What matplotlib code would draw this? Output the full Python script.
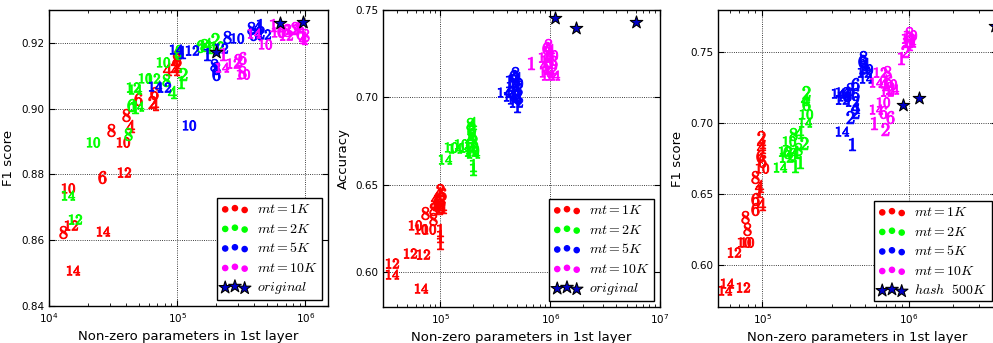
import matplotlib
matplotlib.use("Agg")
import matplotlib.pyplot as plt

plt.rcParams.update({
    "mathtext.fontset": "cm",
    "xtick.direction": "in",
    "ytick.direction": "in",
    "xtick.top": True,
    "ytick.right": True,
    "xtick.major.size": 4,
    "xtick.minor.size": 2,
    "ytick.major.size": 4,
    "grid.color": "k",
    "grid.linestyle": ":",
    "grid.linewidth": 0.6,
    "axes.linewidth": 1.0,
})

RED, GREEN, BLUE, MAG = "#ff0000", "#00ff00", "#0000ff", "#ff00ff"

# ---- panel 1: F1 score ----
p1_red_lab = ["8", "10", "4", "8", "6", "2", "4", "6", "4", "4", "4", "6", "8", "2", "6", "12", "10", "12", "8", "14", "14"]
p1_red_x = [3.05e4, 3.78e4, 4.3e4, 4.0e4, 4.96e4, 6.38e4, 6.6e4, 6.61e4, 8.35e4, 9.64e4, 9.64e4, 1.0e5, 9.8e4, 9.9e4,
            2.59e4, 3.85e4, 1.41e4, 1.49e4, 1.29e4, 2.64e4, 1.54e4]
p1_red_y = [0.8935, 0.8899, 0.8947, 0.8980, 0.9028, 0.9019, 0.9013, 0.9049, 0.9119, 0.9119, 0.9143, 0.9164, 0.9152,
            0.9132, 0.8793, 0.8808, 0.8760, 0.8645, 0.8624, 0.8627, 0.8510]

p1_green_lab = ["10", "8", "6", "14", "1", "12", "14", "10", "12", "8", "4", "10", "2", "1", "6", "8", "6", "8", "4",
                "2", "12", "1", "14", "12"]
p1_green_x = [2.21e4, 4.14e4, 4.37e4, 4.87e4, 4.7e4, 4.53e4, 4.65e4, 5.62e4, 6.49e4, 8.2e4, 9.14e4, 7.77e4, 1.11e5,
              1.07e5, 1.02e5, 1.04e5, 1.5e5, 1.62e5, 1.7e5, 1.98e5, 2.05e5, 1.78e5, 1.41e4, 1.60e4]
p1_green_y = [0.8899, 0.8923, 0.9010, 0.9007, 0.9004, 0.9067, 0.9060, 0.9094, 0.9094, 0.9088, 0.9052, 0.9143, 0.9104,
              0.9082, 0.9170, 0.9176, 0.9191, 0.9194, 0.9196, 0.9212, 0.9191, 0.9186, 0.8736, 0.8663]

p1_blue_lab = ["10", "14", "12", "14", "1", "12", "1", "12", "8", "8", "6", "8", "10", "8", "4", "1", "6", "12", "2"]
p1_blue_x = [1.24e5, 6.73e4, 7.91e4, 9.82e4, 1.09e5, 1.31e5, 1.7e5, 2.2e5, 1.95e5, 2.0e5, 2.0e5, 2.46e5, 2.94e5,
             3.78e5, 4.22e5, 4.4e5, 3.93e5, 4.78e5, 4.45e5]
p1_blue_y = [0.8950, 0.9070, 0.9067, 0.9182, 0.9173, 0.9179, 0.9167, 0.9185, 0.9134, 0.9125, 0.9104, 0.9218, 0.9215,
             0.9245, 0.9248, 0.9254, 0.9227, 0.9227, 0.9233]

p1_mag_lab = ["1", "14", "12", "2", "6", "10", "8", "1", "10", "10", "14", "6", "8", "12", "2", "4", "6", "12", "1",
              "4", "8"]
p1_mag_x = [2.29e5, 2.25e5, 2.74e5, 3.0e5, 3.22e5, 3.28e5, 3.2e5, 5.62e5, 6.15e5, 4.87e5, 4.0e5, 6.5e5, 7.2e5, 7.8e5,
            8.3e5, 8.8e5, 9.0e5, 7.0e5, 9.5e5, 9.64e5, 1.0e6]
p1_mag_y = [0.9167, 0.9128, 0.9140, 0.9149, 0.9155, 0.9104, 0.9110, 0.9254, 0.9233, 0.9197, 0.9230, 0.9236, 0.9240,
            0.9242, 0.9245, 0.9250, 0.9230, 0.9225, 0.9218, 0.9215, 0.9225]

p1_star_x = [2.02e5, 6.38e5, 9.64e5]
p1_star_y = [0.9173, 0.9260, 0.9263]

# ---- panel 2: accuracy ----
p2_red_lab = ["2", "4", "6", "4", "2", "6", "4", "6", "2", "4", "8", "8", "8", "10", "10", "10", "1", "1", "1", "12",
              "12", "12", "14", "14"]
p2_red_x = [1.0e5, 9.6e4, 1.03e5, 9.0e4, 1.02e5, 9.4e4, 8.8e4, 1.0e5, 9.8e4, 1.04e5, 8.5e4, 7.2e4, 8.6e4, 5.9e4,
            6.6e4, 7.9e4, 1.0e5, 1.0e5, 1.0e5, 5.3e4, 7.0e4, 3.66e4, 3.59e4, 6.72e4]
p2_red_y = [0.6470, 0.6450, 0.6445, 0.6425, 0.6420, 0.6400, 0.6390, 0.6380, 0.6365, 0.6375, 0.6358, 0.6336, 0.6301,
            0.6267, 0.6245, 0.6245, 0.6239, 0.6205, 0.6165, 0.6108, 0.6103, 0.6052, 0.5989, 0.5909]

p2_green_lab = ["8", "4", "2", "6", "8", "4", "2", "6", "12", "10", "12", "14", "10", "12", "10", "14", "10", "14",
                "1", "1"]
p2_green_x = [1.85e5, 1.95e5, 1.9e5, 1.88e5, 1.95e5, 1.9e5, 2.0e5, 1.85e5, 1.9e5, 1.95e5, 1.88e5, 2.0e5, 1.55e5,
              1.72e5, 1.26e5, 1.37e5, 1.95e5, 1.11e5, 1.97e5, 1.97e5]
p2_green_y = [0.6845, 0.6855, 0.6825, 0.6805, 0.6790, 0.6770, 0.6750, 0.6735, 0.6720, 0.6705, 0.6690, 0.6680, 0.6733,
              0.6716, 0.6716, 0.6710, 0.6690, 0.6648, 0.6615, 0.6590]

p2_blue_lab = ["8", "6", "4", "2", "10", "12", "8", "6", "4", "2", "10", "12", "1", "14", "14", "1"]
p2_blue_x = [4.8e5, 4.6e5, 5.0e5, 4.7e5, 4.9e5, 4.6e5, 5.1e5, 4.8e5, 4.5e5, 5.0e5, 4.7e5, 4.9e5, 4.24e5, 3.82e5,
             4.3e5, 5.0e5]
p2_blue_y = [0.7140, 0.7120, 0.7110, 0.7095, 0.7080, 0.7065, 0.7050, 0.7035, 0.7020, 0.7005, 0.6990, 0.6975, 0.7091,
             0.7029, 0.7010, 0.6950]

p2_mag_lab = ["8", "6", "4", "2", "10", "12", "8", "6", "4", "2", "12", "10", "14", "14", "1", "1"]
p2_mag_x = [9.6e5, 9.2e5, 1.0e6, 9.5e5, 1.02e6, 9.0e5, 9.8e5, 1.05e6, 8.8e5, 9.6e5, 1.0e6, 9.2e5, 9.5e5, 1.05e6,
            6.7e5, 8.8e5]
p2_mag_y = [0.7300, 0.7285, 0.7270, 0.7255, 0.7240, 0.7230, 0.7215, 0.7200, 0.7190, 0.7175, 0.7160, 0.7145, 0.7125,
            0.7125, 0.7199, 0.7210]

p2_star_x = [1.11e6, 1.72e6, 6.05e6]
p2_star_y = [0.7455, 0.7398, 0.7432]

# ---- panel 3: F1 score (hash baseline) ----
p3_red_lab = ["2", "4", "4", "6", "6", "10", "8", "4", "1", "6", "4", "6", "8", "8", "10", "10", "12", "14", "14", "12"]
p3_red_x = [9.85e4, 9.85e4, 9.85e4, 9.7e4, 1.0e5, 1.0e5, 8.96e4, 9.54e4, 9.54e4, 8.96e4, 9.85e4, 8.96e4, 7.65e4,
            7.89e4, 7.53e4, 7.89e4, 6.43e4, 5.76e4, 5.59e4, 7.41e4]
p3_red_y = [0.6901, 0.6866, 0.6830, 0.6768, 0.6735, 0.6683, 0.6620, 0.6557, 0.6521, 0.6465, 0.6430, 0.6395, 0.6338,
            0.6254, 0.6162, 0.6162, 0.6092, 0.5867, 0.5817, 0.5839]

p3_green_lab = ["2", "4", "6", "10", "14", "8", "4", "2", "10", "12", "6", "4", "8", "14", "1", "1", "12", "6"]
p3_green_x = [2.0e5, 1.97e5, 2.0e5, 2.0e5, 1.97e5, 1.63e5, 1.79e5, 1.94e5, 1.53e5, 1.42e5, 1.48e5, 1.68e5, 1.75e5,
              1.33e5, 1.68e5, 1.82e5, 1.45e5, 1.6e5]
p3_green_y = [0.7218, 0.7169, 0.7134, 0.7063, 0.7007, 0.6923, 0.6937, 0.6859, 0.6873, 0.6803, 0.6796, 0.6796, 0.6815,
              0.6690, 0.6697, 0.6725, 0.6760, 0.6780]

p3_blue_lab = ["8", "6", "4", "2", "10", "12", "14", "14", "10", "8", "6", "12", "6", "12", "4", "2", "2", "14", "1",
               "10", "8"]
p3_blue_x = [4.9e5, 4.8e5, 5.0e5, 4.9e5, 5.1e5, 4.95e5, 5.07e5, 3.27e5, 3.53e5, 3.95e5, 4.27e5, 3.48e5, 4.27e5,
             4.07e5, 4.27e5, 4.27e5, 3.95e5, 3.53e5, 4.07e5, 3.6e5, 3.8e5]
p3_blue_y = [0.7465, 0.7440, 0.7420, 0.7400, 0.7380, 0.7360, 0.7317, 0.7211, 0.7218, 0.7240, 0.7275, 0.7169, 0.7204,
             0.7155, 0.7113, 0.7078, 0.7042, 0.6944, 0.6852, 0.7190, 0.7200]

p3_mag_lab = ["10", "8", "12", "6", "4", "2", "1", "14", "12", "8", "14", "4", "10", "12", "14", "6", "2", "10", "14",
              "6", "6", "1", "2"]
p3_mag_x = [1.02e6, 1.0e6, 9.9e5, 1.0e6, 9.8e5, 9.4e5, 8.8e5, 1.0e6, 6.33e5, 7.07e5, 5.94e5, 6.63e5, 7.41e5, 7.07e5,
            7.65e5, 7.2e5, 7.5e5, 6.63e5, 5.94e5, 6.63e5, 7.41e5, 5.75e5, 6.85e5]
p3_mag_y = [0.7620, 0.7640, 0.7600, 0.7580, 0.7556, 0.7507, 0.7458, 0.7575, 0.7359, 0.7359, 0.7289, 0.7275, 0.7275,
            0.7225, 0.7240, 0.7300, 0.7250, 0.7148, 0.7099, 0.7078, 0.7042, 0.7000, 0.6958]

p3_star_x = [9.1e5, 1.17e6, 3.85e6]
p3_star_y = [0.7127, 0.7176, 0.7683]

legend_labels = [r"$mt=1K$", r"$mt=2K$", r"$mt=5K$", r"$mt=10K$"]


def draw_points(ax, labs, xs, ys, color):
    for lab, x, y in zip(labs, xs, ys):
        ax.plot(x, y, linestyle="none", marker=f"${lab}$", ms=9, color=color, mec=color, mew=0.7)


def panel(rect, series, stars, star_label, xlim, ylim, yticks, ylabel):
    ax = fig.add_axes(rect)
    ax.set_xscale("log")
    for labs, xs, ys, color in series:
        draw_points(ax, labs, xs, ys, color)
    handles = []
    for lbl, (_, _, _, color) in zip(legend_labels, series):
        handles.append(ax.scatter([], [], s=14, marker="o", color=color, edgecolors=color, label=lbl))
    handles.append(ax.scatter(stars[0], stars[1], s=90, marker="*", facecolor="#0000cc", edgecolors="k",
                              linewidths=0.8, zorder=5, label=star_label, clip_on=False))
    ax.set_xlim(*xlim)
    ax.set_ylim(*ylim)
    ax.set_yticks(yticks)
    ax.set_yticklabels([f"{t:.2f}" for t in yticks])
    ax.tick_params(labelsize=7.5)
    ax.grid(True, which="major")
    ax.set_xlabel("Non-zero parameters in 1st layer", fontsize=9.5)
    ax.set_ylabel(ylabel, fontsize=9.5)
    leg = ax.legend(handles=handles, loc="lower right", scatterpoints=3, fontsize=10, fancybox=False,
                    framealpha=1, edgecolor="k", borderpad=0.3, labelspacing=0.4, handletextpad=0.6,
                    borderaxespad=0.4)
    leg.get_frame().set_linewidth(1.0)
    return ax


fig = plt.figure(figsize=(9.93, 3.43), dpi=100)

panel([0.0493, 0.108, 0.281, 0.863],
      [(p1_red_lab, p1_red_x, p1_red_y, RED), (p1_green_lab, p1_green_x, p1_green_y, GREEN),
       (p1_blue_lab, p1_blue_x, p1_blue_y, BLUE), (p1_mag_lab, p1_mag_x, p1_mag_y, MAG)],
      (p1_star_x, p1_star_y), r"$original$", (1e4, 1.5e6), (0.84, 0.93),
      [0.84, 0.86, 0.88, 0.90, 0.92], "F1 score")

panel([0.3857, 0.105, 0.279, 0.866],
      [(p2_red_lab, p2_red_x, p2_red_y, RED), (p2_green_lab, p2_green_x, p2_green_y, GREEN),
       (p2_blue_lab, p2_blue_x, p2_blue_y, BLUE), (p2_mag_lab, p2_mag_x, p2_mag_y, MAG)],
      (p2_star_x, p2_star_y), r"$original$", (3e4, 1e7), (0.58, 0.75),
      [0.60, 0.65, 0.70, 0.75], "Accuracy")

panel([0.7231, 0.105, 0.281, 0.866],
      [(p3_red_lab, p3_red_x, p3_red_y, RED), (p3_green_lab, p3_green_x, p3_green_y, GREEN),
       (p3_blue_lab, p3_blue_x, p3_blue_y, BLUE), (p3_mag_lab, p3_mag_x, p3_mag_y, MAG)],
      (p3_star_x, p3_star_y), r"$hash\ \ 500K$", (5e4, 4e6), (0.57, 0.78),
      [0.60, 0.65, 0.70, 0.75], "F1 score")

fig.savefig("out.png", dpi=100)
